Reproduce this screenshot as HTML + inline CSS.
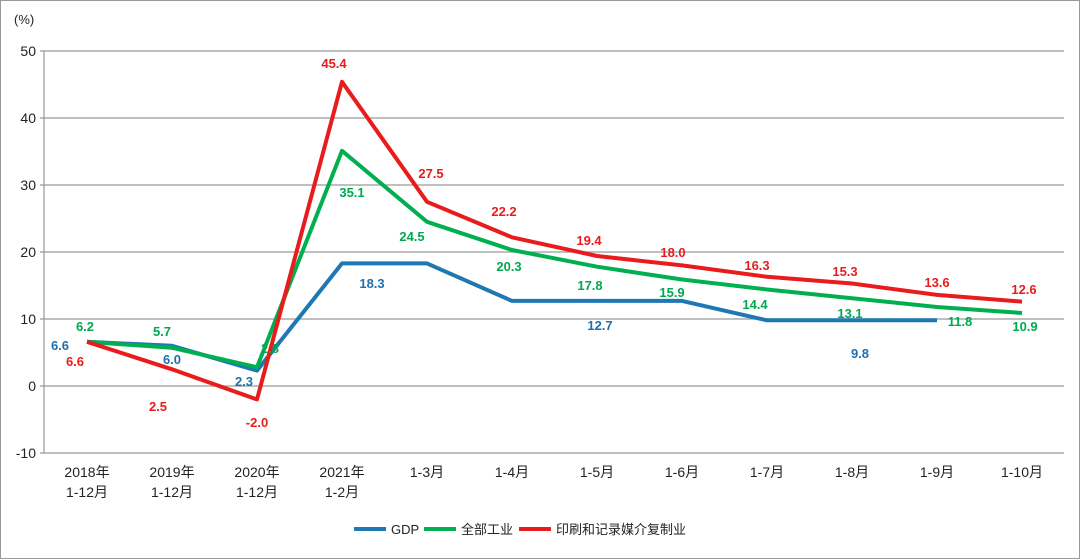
<!DOCTYPE html><html><head><meta charset="utf-8"><style>body{margin:0;background:#fff}svg{display:block}text{font-family:"Liberation Sans","Noto Sans CJK SC",sans-serif}</style></head><body>
<svg width="1080" height="559" xmlns="http://www.w3.org/2000/svg">
<rect x="0.5" y="0.5" width="1079" height="558" fill="#fff" stroke="#999"/>
<text x="14" y="24" font-size="13" fill="#222">(%)</text>
<g stroke="#999" stroke-width="1.2">
<line x1="40" y1="51" x2="1064" y2="51"/><line x1="40" y1="118" x2="1064" y2="118"/><line x1="40" y1="185" x2="1064" y2="185"/><line x1="40" y1="252" x2="1064" y2="252"/><line x1="40" y1="319" x2="1064" y2="319"/><line x1="40" y1="386" x2="1064" y2="386"/><line x1="40" y1="453" x2="1064" y2="453"/><line x1="44" y1="51" x2="44" y2="453"/>
</g>
<g font-size="14" fill="#222" text-anchor="end">
<text x="36" y="56">50</text><text x="36" y="123">40</text><text x="36" y="190">30</text><text x="36" y="257">20</text><text x="36" y="324">10</text><text x="36" y="391">0</text><text x="36" y="458">-10</text></g>
<g font-size="14" fill="#222" text-anchor="middle">
<text x="87" y="477">2018年</text><text x="87" y="497">1-12月</text>
<text x="172" y="477">2019年</text><text x="172" y="497">1-12月</text>
<text x="257" y="477">2020年</text><text x="257" y="497">1-12月</text>
<text x="342" y="477">2021年</text><text x="342" y="497">1-2月</text>
<text x="427" y="477">1-3月</text><text x="512" y="477">1-4月</text><text x="597" y="477">1-5月</text><text x="682" y="477">1-6月</text><text x="767" y="477">1-7月</text><text x="852" y="477">1-8月</text><text x="937" y="477">1-9月</text><text x="1022" y="477">1-10月</text></g>
<g fill="none" stroke-width="4" stroke-linejoin="round">
<polyline stroke="#1f77b4" points="87,341.8 172,345.8 257,370.6 342,263.4 427,263.4 512,300.9 597,300.9 682,300.9 767,320.3 852,320.3 937,320.3"/>
<polyline stroke="#00b050" points="87,341.8 172,347.8 257,367.2 342,150.8 427,221.8 512,250 597,266.7 682,279.5 767,289.5 852,298.2 937,307 1022,313"/>
<polyline stroke="#e81c1c" points="87,341.8 172,369.3 257,399.4 342,81.8 427,201.8 512,237.3 597,256 682,265.4 767,276.8 852,283.5 937,294.9 1022,301.6"/>
</g>
<g font-size="13" font-weight="bold" text-anchor="middle">
<g fill="#1f6fae"><text x="60" y="350">6.6</text><text x="172" y="364">6.0</text><text x="244" y="386">2.3</text><text x="372" y="288">18.3</text><text x="600" y="330">12.7</text><text x="860" y="358">9.8</text></g>
<g fill="#00a84f"><text x="85" y="331">6.2</text><text x="162" y="336">5.7</text><text x="270" y="353">2.8</text><text x="352" y="197">35.1</text><text x="412" y="241">24.5</text><text x="509" y="271">20.3</text><text x="590" y="290">17.8</text><text x="672" y="297">15.9</text><text x="755" y="309">14.4</text><text x="850" y="318">13.1</text><text x="960" y="326">11.8</text><text x="1025" y="331">10.9</text></g>
<g fill="#e81c1c"><text x="75" y="366">6.6</text><text x="158" y="411">2.5</text><text x="257" y="427">-2.0</text><text x="334" y="68">45.4</text><text x="431" y="178">27.5</text><text x="504" y="216">22.2</text><text x="589" y="245">19.4</text><text x="673" y="257">18.0</text><text x="757" y="270">16.3</text><text x="845" y="276">15.3</text><text x="937" y="287">13.6</text><text x="1024" y="294">12.6</text></g>
</g>
<g font-size="13" fill="#222">
<line x1="354" y1="529" x2="386" y2="529" stroke="#1f77b4" stroke-width="4"/><text x="391" y="534">GDP</text>
<line x1="424" y1="529" x2="456" y2="529" stroke="#00b050" stroke-width="4"/><text x="461" y="534">全部工业</text>
<line x1="519" y1="529" x2="551" y2="529" stroke="#e81c1c" stroke-width="4"/><text x="556" y="534">印刷和记录媒介复制业</text>
</g>
</svg></body></html>
